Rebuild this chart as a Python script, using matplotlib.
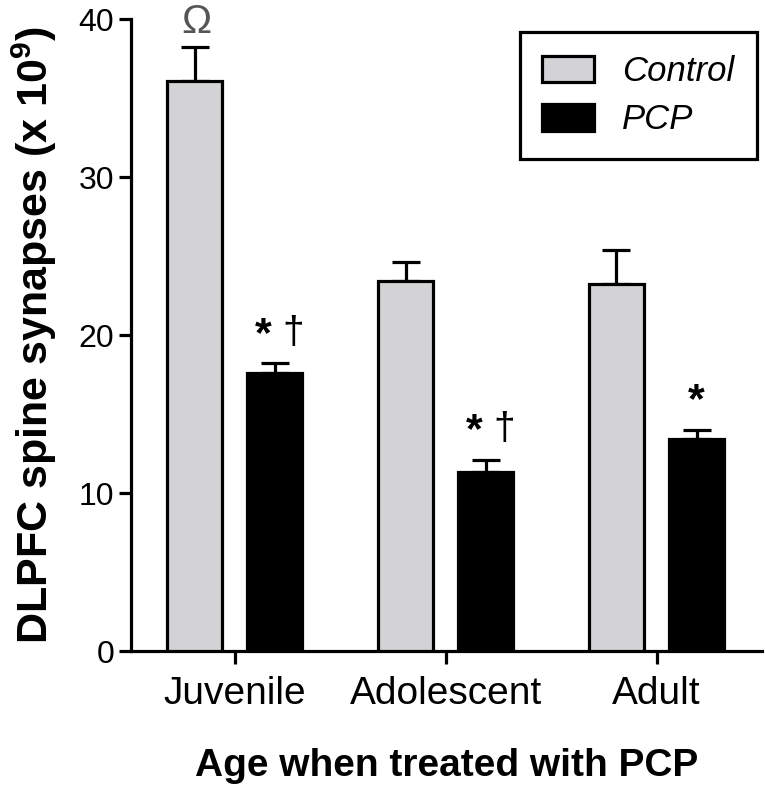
import matplotlib
matplotlib.use('Agg')
import matplotlib.pyplot as plt
import numpy as np

plt.rcParams['font.family'] = ['Liberation Sans', 'DejaVu Sans']
plt.rcParams['mathtext.fontset'] = 'custom'
plt.rcParams['mathtext.rm'] = 'Liberation Sans'
plt.rcParams['mathtext.bf'] = 'Liberation Sans:bold'

# data
groups = ['Juvenile', 'Adolescent', 'Adult']
control = [36.1, 23.4, 23.2]
control_err = [2.1, 1.2, 2.2]
pcp = [17.6, 11.3, 13.4]
pcp_err = [0.6, 0.8, 0.6]
pcp_marks = [('*', '†'), ('*', '†'), ('*', '')]

gray = '#d3d3d5'
lw = 2.3

fig = plt.figure(figsize=(7.65, 7.92), dpi=100)
ax = fig.add_axes([0.171, 0.178, 0.825, 0.798])

x = np.arange(len(groups))
w = 0.26
off = 0.19

ax.bar(x - off, control, w, color=gray, edgecolor='black', linewidth=lw,
       label='Control', zorder=3)
ax.bar(x + off, pcp, w, color='black', edgecolor='black', linewidth=lw,
       label='PCP', zorder=3)

# upper error bars only
ax.errorbar(x - off, control, yerr=[np.zeros(3), control_err], fmt='none',
            ecolor='black', elinewidth=lw, capsize=10, capthick=lw, zorder=2)
ax.errorbar(x + off, pcp, yerr=[np.zeros(3), pcp_err], fmt='none',
            ecolor='black', elinewidth=lw, capsize=10, capthick=lw, zorder=2)

# significance marks
for i in range(len(groups)):
    top = pcp[i] + pcp_err[i]
    s, d = pcp_marks[i]
    if d:
        ax.annotate(s, (x[i] + off, top), xytext=(-8, 6), textcoords='offset points',
                    ha='center', va='bottom', fontsize=31, fontweight='bold')
        ax.annotate(d, (x[i] + off, top), xytext=(13, 9), textcoords='offset points',
                    ha='center', va='bottom', fontsize=28)
    else:
        ax.annotate(s, (x[i] + off, top), xytext=(0, 6), textcoords='offset points',
                    ha='center', va='bottom', fontsize=31, fontweight='bold')

ax.annotate('Ω', (x[0] - off, control[0] + control_err[0]), xytext=(1, 5),
            textcoords='offset points', ha='center', va='bottom',
            fontsize=29, color='#555555', annotation_clip=False)

ax.set_xlim(-0.493, 2.5)
ax.set_ylim(0, 40)
ax.set_yticks([0, 10, 20, 30, 40])
ax.set_xticks(x)
ax.set_xticklabels(groups, fontsize=28)

for side in ['top', 'right']:
    ax.spines[side].set_visible(False)
for side in ['left', 'bottom']:
    ax.spines[side].set_linewidth(lw)

ax.tick_params(axis='y', labelsize=23, length=9, width=lw, pad=3)
ax.tick_params(axis='x', length=9, width=lw, pad=9)

ax.set_ylabel('DLPFC spine synapses (x 10$^{\\mathbf{9}}$)', fontsize=31,
              fontweight='bold', labelpad=14)
ax.set_xlabel('Age when treated with PCP', fontsize=28, fontweight='bold',
              labelpad=26)

leg = ax.legend(loc='upper right', bbox_to_anchor=(0.992, 0.979), borderaxespad=0,
                prop={'style': 'italic', 'size': 25}, fancybox=False,
                framealpha=1, edgecolor='black', handlelength=1.5,
                handleheight=0.8, handletextpad=0.8, borderpad=0.65,
                labelspacing=0.45)
leg.get_frame().set_linewidth(lw)

fig.savefig('out.png', dpi=100)
